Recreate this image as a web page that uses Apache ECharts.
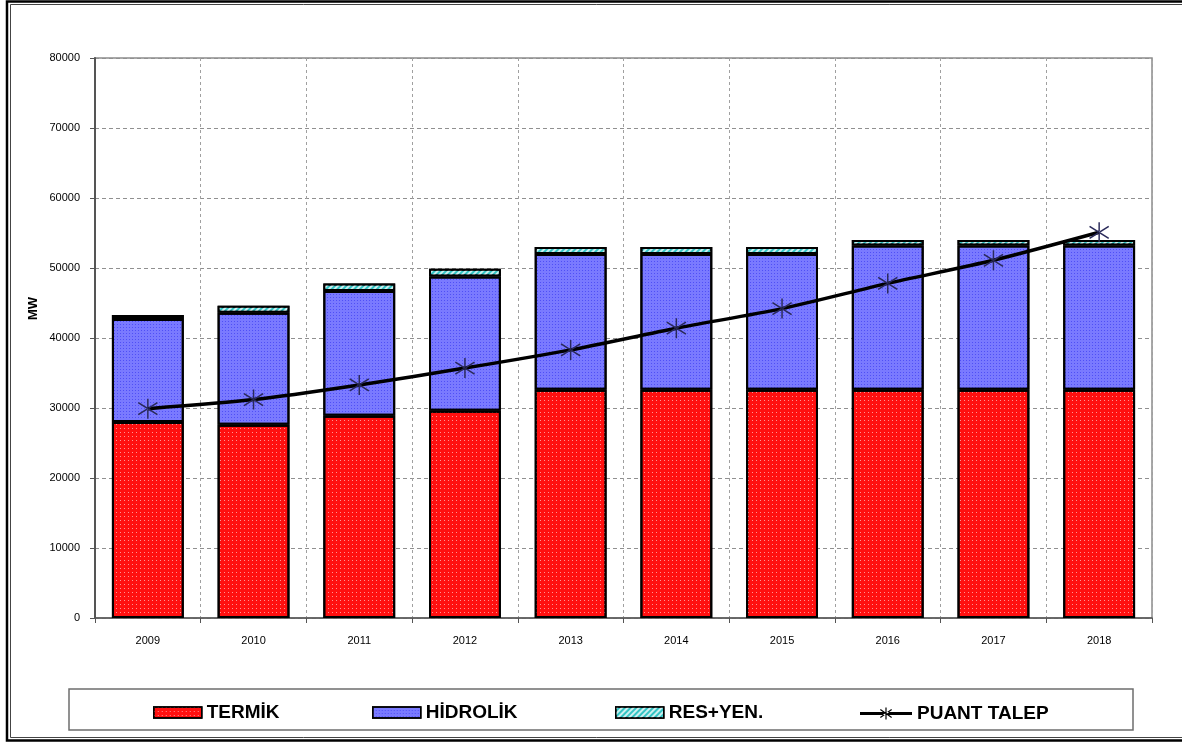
<!DOCTYPE html>
<html>
<head>
<meta charset="utf-8">
<script src="https://cdn.jsdelivr.net/npm/echarts@6/dist/echarts.min.js"></script>
<style>
html,body{margin:0;padding:0;background:#fff;}
#chart{width:1182px;height:744px;}
</style>
</head>
<body>
<div id="chart"></div>
<script>
const years = ['2009','2010','2011','2012','2013','2014','2015','2016','2017','2018'];
const termik = [28000, 27600, 28900, 29600, 32600, 32600, 32600, 32600, 32600, 32600];
const hidrolik = [14700, 16000, 17800, 19200, 19400, 19400, 19400, 20600, 20600, 20600];
const resYen = [600, 1000, 1100, 1100, 1000, 1000, 1000, 800, 800, 800];
const puantTalep = [29900, 31200, 33300, 35700, 38300, 41400, 44200, 47800, 51100, 55100];
const yTicks = [0, 10000, 20000, 30000, 40000, 50000, 60000, 70000, 80000];

const FONT = 'Liberation Sans, Arial, sans-serif';
const starPath = 'path://M9.3,0 L10.7,0 L10.7,20 L9.3,20 Z M0.4,4.6 L1.2,3.4 L19.6,15.4 L18.8,16.6 Z M0.4,15.4 L1.2,16.6 L19.6,4.6 L18.8,3.4 Z';
const legendLinePath = 'path://M0,8.5 L52,8.5 L52,11.5 L0,11.5 Z M25.4,4 L26.6,4 L26.6,16 L25.4,16 Z M20,6.5 L20.7,5.5 L32,13.5 L31.3,14.5 Z M20,13.5 L20.7,14.5 L32,6.5 L31.3,5.5 Z';

const chart = echarts.init(document.getElementById('chart'), null, {renderer: 'canvas'});

const legendBase = {
  top: 698, itemWidth: 48, itemHeight: 11, itemGap: 3,
  textStyle: {fontFamily: FONT, fontSize: 19, fontWeight: 'bold', color: '#000'},
  selectedMode: false
};
const swatchBorder = {borderColor: '#000', borderWidth: 1.5};

chart.setOption({
  animation: false,
  backgroundColor: '#fff',
  grid: {left: 95, right: 30, top: 58, bottom: 126, show: true, borderColor: '#8c8c8c', borderWidth: 1.5},
  legend: [
    Object.assign({}, legendBase, {data: [{name: 'TERMİK', icon: 'rect', itemStyle: swatchBorder}], left: 148}),
    Object.assign({}, legendBase, {data: [{name: 'HİDROLİK', icon: 'rect', itemStyle: swatchBorder}], left: 367}),
    Object.assign({}, legendBase, {data: [{name: 'RES+YEN.', icon: 'rect', itemStyle: swatchBorder}], left: 610}),
    Object.assign({}, legendBase, {data: [{name: 'PUANT TALEP', icon: legendLinePath, itemStyle: {color: '#000', borderWidth: 0}}], left: 855, top: 699, itemWidth: 52, itemHeight: 20})
  ],
  xAxis: {
    type: 'category',
    data: years,
    boundaryGap: true,
    axisLine: {lineStyle: {color: '#555', width: 1.5}},
    axisTick: {show: true, length: 5, lineStyle: {color: '#555'}},
    axisLabel: {fontFamily: FONT, fontSize: 11, color: '#000', margin: 17},
    splitLine: {show: true, lineStyle: {color: '#a0a0a0', type: [3, 3], width: 1}}
  },
  yAxis: {
    type: 'value',
    min: 0, max: 80000, interval: 10000,
    axisLine: {show: true, lineStyle: {color: '#555', width: 2}},
    axisTick: {show: true, length: 5, lineStyle: {color: '#555'}},
    axisLabel: {fontFamily: FONT, fontSize: 11, color: '#000', margin: 15,
      formatter: v => yTicks.indexOf(v) >= 0 ? String(v) : ''},
    splitLine: {show: true, lineStyle: {color: '#909090', type: [4, 3], width: 1}}
  },
  graphic: [
    {type: 'rect', shape: {x: 7, y: 1.5, width: 1185, height: 739}, style: {fill: 'none', stroke: '#000', lineWidth: 2.5}, z: 100},
    {type: 'rect', shape: {x: 10.5, y: 4.5, width: 1185, height: 733}, style: {fill: 'none', stroke: '#444', lineWidth: 1}, z: 100},
    {type: 'rect', shape: {x: 69, y: 689, width: 1064, height: 41}, style: {fill: 'none', stroke: '#6e6e6e', lineWidth: 1.5}, z: 100},
    {type: 'text', left: 27, top: 297, rotation: Math.PI / 2,
      style: {text: 'MW', font: 'bold 13px ' + FONT, fill: '#000'}, z: 100}
  ],
  series: [
    {
      name: 'TERMİK', type: 'bar', stack: 'cap', data: termik, barWidth: '68%',
      itemStyle: {color: '#ff1010', borderColor: '#000', borderWidth: 2,
        decal: {symbol: 'rect', symbolSize: 1, dashArrayX: [1, 3], dashArrayY: [1, 3], color: 'rgba(255,255,255,0.55)'}}
    },
    {
      name: 'HİDROLİK', type: 'bar', stack: 'cap', data: hidrolik,
      itemStyle: {color: '#7a7aff', borderColor: '#000', borderWidth: 2,
        decal: {symbol: 'rect', symbolSize: 1, dashArrayX: [1, 2], dashArrayY: [1, 2], color: 'rgba(0,0,230,0.35)'}}
    },
    {
      name: 'RES+YEN.', type: 'bar', stack: 'cap', data: resYen,
      itemStyle: {color: '#33c4c4', borderColor: '#000', borderWidth: 2,
        decal: {symbol: 'rect', symbolSize: 1, dashArrayX: [1, 0], dashArrayY: [2, 2], rotation: -Math.PI / 4, color: 'rgba(255,255,255,0.75)'}}
    },
    {
      name: 'PUANT TALEP', type: 'line', data: puantTalep, smooth: 0.25,
      symbol: starPath, symbolSize: 20,
      itemStyle: {color: '#2a2a5a'},
      lineStyle: {color: '#000', width: 3.5},
      z: 10
    }
  ]
});
</script>
</body>
</html>
